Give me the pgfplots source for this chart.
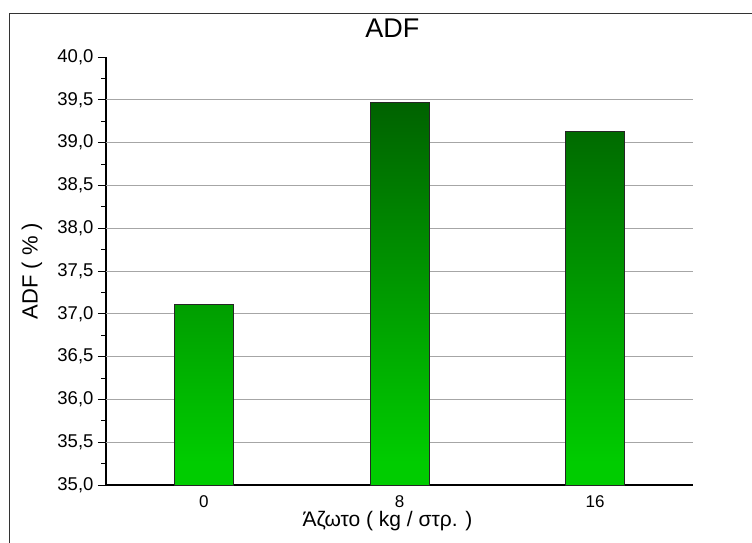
\documentclass[border=0pt]{standalone}
\usepackage{pgfplots}
\pgfplotsset{compat=1.18}
\usepackage{fontspec}
\setmainfont{Liberation Sans}
\definecolor{darkg}{RGB}{0,98,0}
\definecolor{midg}{RGB}{0,150,0}
\definecolor{brightg}{RGB}{0,204,0}
\pgfdeclareverticalshading{barshade}{100bp}{color(0bp)=(brightg); color(28bp)=(brightg); color(52bp)=(midg); color(75bp)=(darkg); color(100bp)=(darkg)}
\begin{document}
\begin{tikzpicture}[x=1pt,y=1pt]
\clip (0,0) rectangle (752,542);
\draw[line width=1.3pt, draw=black!80] (9.5,528.7) rectangle (800,-20);
\begin{axis}[
  at={(106pt,57pt)}, anchor=south west,
  scale only axis, width=587pt, height=428pt,
  xmin=-0.5, xmax=2.5, ymin=35, ymax=40,
  ybar, bar width=59pt,
  xtick=data, xticklabels={0,8,16},
  xtick style={draw=none},
  ytick={35,35.5,...,40},
  minor y tick num=1,
  tick align=outside,
  major tick length=8pt, minor tick length=4.5pt,
  every tick/.style={black, line width=1pt},
  axis x line*=bottom, axis y line*=left,
  axis line style={black, line width=1.3pt},
  extra y ticks={35.5,36,36.5,37,37.5,38,38.5,39,39.5},
  extra y tick labels={},
  extra y tick style={grid=major, major tick length=0pt},
  grid style={gray!70, line width=0.8pt},
  /pgf/number format/assume math mode=true,
  /pgf/number format/use comma,
  /pgf/number format/fixed,
  /pgf/number format/fixed zerofill,
  /pgf/number format/precision=1,
  xticklabel style={yshift=0.5pt, font=\fontsize{17}{20}\selectfont},
  yticklabel style={xshift=-1pt, font=\fontsize{18.5}{22}\selectfont},
  title={ADF},
  title style={at={(axis description cs:0.488,1.031)}, anchor=base, font=\fontsize{27}{32}\selectfont},
  xlabel={Άζωτο ( kg / στρ. )},
  xlabel style={at={(axis description cs:0.4796,-0.097)}, anchor=base, font=\fontsize{21}{25}\selectfont},
  ylabel={ADF ( \% )},
  ylabel style={at={(axis description cs:-0.126,0.5)}, anchor=center, font=\fontsize{22}{26}\selectfont},
]
\addplot[draw=black!85, line width=1pt, shading=barshade] coordinates {(0,37.11) (1,39.47) (2,39.13)};
\end{axis}
\end{tikzpicture}
\end{document}
